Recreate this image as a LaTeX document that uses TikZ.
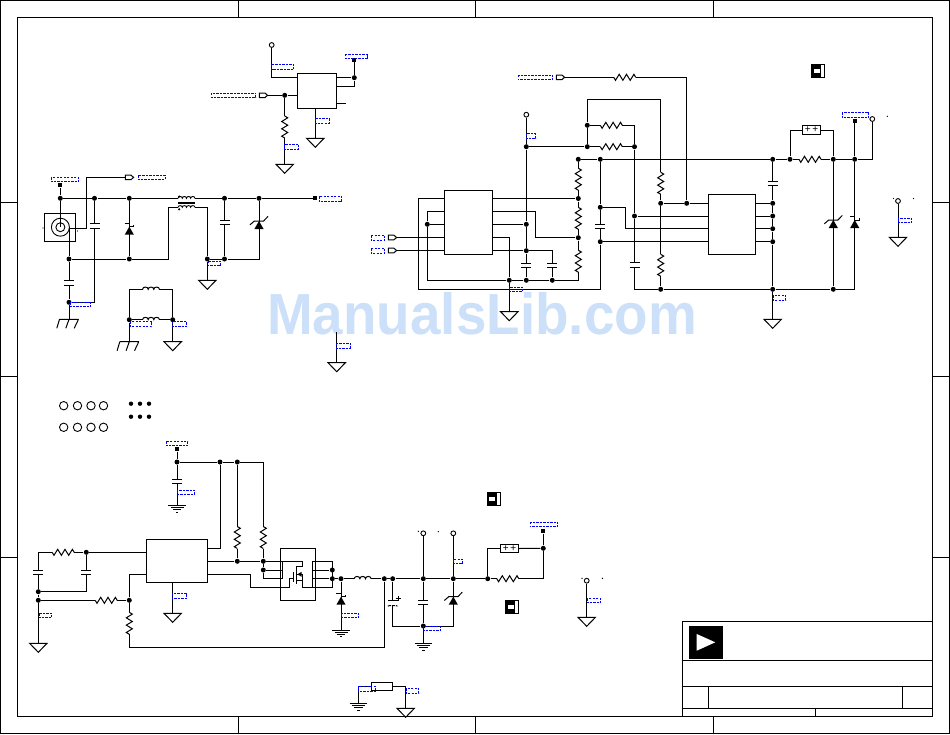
\documentclass[tikz,border=0pt]{standalone}
\usepackage{fontspec}
\setmainfont{Liberation Sans}
\definecolor{wmark}{HTML}{CCE0FA}
\definecolor{netblue}{HTML}{0000FF}
\newcommand\Dot[2]{\node[jn] (#1) at (#2) {};}
\newcommand\Pt[2]{\coordinate (#1) at (#2);}
\newcommand\Sq[2]{\node[termsq] (#1) at (#2) {};}
\newcommand\Tp[2]{\node[termo] (#1) at (#2) {};}
\newcommand\Lab[2]{\draw[netlab] (#1) rectangle (#2);}
\newcommand\IC[4]{\node[icbox,minimum width=#3,minimum height=#4] (#1) at (#2) {};}
\tikzset{
  jn/.style={circle,fill=black,inner sep=0pt,minimum size=5pt},
  termsq/.style={rectangle,fill=black,inner sep=0pt,minimum size=3.8pt},
  termo/.style={circle,draw=black,fill=white,inner sep=0pt,minimum size=4.8pt,line width=0.9pt},
  netlab/.style={draw=netblue,line width=0.85pt,dash pattern=on 2.4pt off 1.1pt},
  icbox/.style={rectangle,draw=black,inner sep=0pt},
  hole/.style={circle,draw=black,inner sep=0pt,minimum size=8.4pt,line width=0.9pt},
  hdot/.style={circle,fill=black,inner sep=0pt,minimum size=4.4pt},
  pics/resh/.style={code={
    \fill[white] (-11,-1.4) rectangle (11,1.4);
    \draw (-11,0) -- (-9.2,3) -- (-5.5,-3) -- (-1.8,3) -- (1.8,-3) -- (5.5,3) -- (9.2,-3) -- (11,0);}},
  pics/resv/.style={code={
    \fill[white] (-1.4,-11) rectangle (1.4,11);
    \draw (0,-11) -- (3,-9.2) -- (-3,-5.5) -- (3,-1.8) -- (-3,1.8) -- (3,5.5) -- (-3,9.2) -- (0,11);}},
  pics/capx/.style={code={
    \fill[white] (-1.4,-2.2) rectangle (1.4,2.2);
    \draw (-5,-2.2) -- (5,-2.2) (-5,2.2) -- (5,2.2);}},
  pics/elcap/.style={code={
    \fill[white] (-1.4,-2.6) rectangle (1.4,2.6);
    \draw (-4.8,-2.6) -- (4.8,-2.6);
    \draw[dash pattern=on 3pt off 1pt] (-4.8,3.2) -- (-3.5,2.6) -- (3.5,2.6) -- (4.8,3.2);
    \draw (5.6,-7.5) -- (5.6,-2.5) (3.2,-5) -- (8,-5);}},
  pics/dios/.style={code={
    \fill (0,0) -- (-4.6,8) -- (4.6,8) -- cycle;
    \draw (-4.6,-3.2) -- (0,-3.2) (0,0) -- (4.6,0) -- (4.6,-1.6);}},
  pics/zen/.style={code={
    \fill (0,0) -- (-4.6,8) -- (4.6,8) -- cycle;
    \draw (-9,3.8) -- (-4.6,0) -- (4.6,0) -- (9,-4.6);}},
  pics/gndtri/.style={code={\draw (-8.7,0) -- (8.7,0) -- (0,9) -- cycle;}},
  pics/gndearth/.style={code={
    \draw (-8.7,0) -- (8.7,0) (-6.5,2.2) -- (6.5,2.2) (-4.3,4.4) -- (4.3,4.4) (-1.2,6.8) -- (1.2,6.8);}},
  pics/chas/.style={code={
    \draw (-9.5,0) -- (9.5,0) (-9.5,0) -- (-12.2,9) (0,0) -- (-3.2,9) (9.5,0) -- (5.2,9);}},
  pics/indh/.style={code={
    \fill[white] (-8.4,-1.2) rectangle (8.4,1.2);
    \draw (-8.4,0) .. controls (-8.4,-3) and (-2.8,-3) .. (-2.8,0)
      .. controls (-2.8,-3) and (2.8,-3) .. (2.8,0)
      .. controls (2.8,-3) and (8.4,-3) .. (8.4,0);}},
  pics/xfmr/.style={code={
    \draw[line width=0.9pt] (-8.5,-4.4) .. controls (-8.5,-6.8) and (-4.2,-6.8) .. (-4.2,-4.4)
      .. controls (-4.2,-6.8) and (0,-6.8) .. (0,-4.4)
      .. controls (0,-6.8) and (4.2,-6.8) .. (4.2,-4.4)
      .. controls (4.2,-6.8) and (8.5,-6.8) .. (8.5,-4.4);
    \draw[line width=0.9pt] (-8.5,4.6) .. controls (-8.5,2.4) and (-4.2,2.4) .. (-4.2,4.6)
      .. controls (-4.2,2.4) and (0,2.4) .. (0,4.6)
      .. controls (0,2.4) and (4.2,2.4) .. (4.2,4.6)
      .. controls (4.2,2.4) and (8.5,2.4) .. (8.5,4.6);
    \draw (-8.5,-0.5) -- (8.5,-0.5) (-8.5,1) -- (8.5,1);
    \fill (-7.3,-6.2) circle[radius=1.2pt] (-7.3,6.6) circle[radius=1.2pt];}},
  pics/tagport/.style={code={
    \draw (0,-2.3) -- (5.6,-2.3) -- (8.3,0) -- (5.6,2.3) -- (0,2.3) -- cycle;}},
  pics/jmp/.style={code={
    \fill[white] (0,0) rectangle (13.4,13.4);
    \fill (1,1) rectangle (10,12.4);
    \fill[white] (2.4,5) rectangle (8.4,8.4);
    \draw (0,0) rectangle (13.4,13.4);}},
}
\begin{document}
\begin{tikzpicture}[x=1pt,y=-1pt,line width=1pt,line cap=butt,line join=miter]
\useasboundingbox (0,0) rectangle (950,734);
% watermark
\node[anchor=base,text=wmark,inner sep=0pt,xscale=0.945,font=\fontsize{58}{58}\selectfont\bfseries] (wm) at (482,334) {ManualsLib.com};
% frame
\draw (0.6,0.6) rectangle (949.4,733.4);
\draw (17,17) rectangle (932.3,716.3);
\foreach \xx in {238,475,713}{\draw (\xx,0.6) -- (\xx,17) (\xx,716.3) -- (\xx,733.4);}
\foreach \yy in {202,376,557}{\draw (0.6,\yy) -- (17,\yy) (932.3,\yy) -- (949.4,\yy);}
% title block
\draw (682.3,621.3) rectangle (932.3,716.3);
\draw (682.3,660.7) -- (932.3,660.7) (682.3,686.3) -- (932.3,686.3) (682.3,708.3) -- (932.3,708.3);
\draw (708.3,686.3) -- (708.3,708.3) (902.3,686.3) -- (902.3,708.3) (815.3,708.3) -- (815.3,716.3);
\fill (689,626) rectangle (723,658.7);
\fill[white] (696.7,634) -- (715.3,642.3) -- (696.7,650.7) -- cycle;
% ---------- section A
\IC{ua}{317,90.85}{39.4pt}{35.1pt}
\Tp{atp}{271.7,45}
\Sq{asq}{354.3,60}
\Dot{aj1}{354.3,77.7}
\Dot{aj2}{284.7,95.3}
\Pt{ap1}{297.3,77.7}\Pt{ap2}{297.3,95.3}
\Pt{ar1}{336.7,77.7}\Pt{ar2}{336.7,86}\Pt{ar3}{336.7,103}\Pt{ar3e}{346,103}
\Pt{ab}{315.3,108.4}\Pt{ag1}{315.3,138.3}\Pt{atip}{267,95.3}\Pt{ag2}{284.7,164.3}
\draw (atp) |- (ap1);
\draw (ar1) -- (aj1) (ar2) -| (aj1) (aj1) -- (asq) (ar3) -- (ar3e);
\draw (ab) -- (ag1);
\draw (atip) -- (aj2) -- (ap2);
\draw (aj2) -- (ag2);
\pic at (284.7,127) {resv};
\pic at (ag1) {gndtri};
\pic at (ag2) {gndtri};
\pic at (259.3,95.3) {tagport};
\Lab{271.7,64.3}{293.7,69.7}\Lab{345.3,54}{367.7,58.7}\Lab{315.5,118.3}{329,123.3}
\Lab{284.7,144.3}{298.7,149.3}\Lab{211.3,93}{255.7,97.7}
% ---------- section B
\IC{bj}{60.3,227.3}{30.7pt}{28pt}
\node[circle,draw=black,inner sep=0pt,minimum size=18pt,line width=0.9pt] (bo) at (60.4,227.2) {};
\node[circle,draw=black,inner sep=0pt,minimum size=9pt,line width=0.9pt] (bi) at (60.4,227.2) {};
\Sq{bsq1}{60.3,185.3}\Sq{bsq2}{315.3,198.3}
\Dot{bj1}{60.3,198.3}\Dot{bj2}{94.5,198.3}\Dot{bj3}{129.3,198.3}\Dot{bj4}{224.5,198.3}\Dot{bj5}{259,198.3}
\Dot{bj6}{69,259}\Dot{bj7}{129.3,259}\Dot{bj8}{207.3,259}\Dot{bj9}{224.5,259}\Dot{bj10}{69,302.3}
\Pt{bx1}{178,198.3}\Pt{bx2}{195,198.3}\Pt{bx3}{178,207.3}\Pt{bx4}{195,207.3}
\Pt{bc}{60.3,227.2}\Pt{bpin}{69,228.4}\Pt{bk1}{168.3,207.3}\Pt{bk2}{86.7,177.3}\Pt{bport}{125.3,177.3}
\Pt{bg1}{207.3,280.3}\Pt{bch1}{69,319.3}
\draw (bsq1) -- (bj1) -- (bc);
\draw (bj1) -- (bj2) -- (bj3) -- (bx1);
\draw (bx2) -- (bj4) -- (bj5) -- (bsq2);
\draw (bj3) -- (bj7);
\draw (bpin) -- (bj6) -- (bj7);
\draw (bj7) -| (bk1) -- (bx3);
\draw (bx4) -| (bj8);
\draw (bj8) -- (bj9) -| (bj5);
\draw (bj8) -- (bg1);
\draw (bj4) -- (bj9);
\draw (bj2) |- (bj10);
\draw (bj6) -- (bj10) -- (bch1);
\draw (bpin) -| (bk2) -- (bport);
\pic at (186.5,202.7) {xfmr};
\pic at (129.3,226.7) {dios};
\pic at (259,221) {zen};
\pic at (224.5,222.3) {capx};
\pic at (94.5,225.8) {capx};
\pic at (69,283) {capx};
\pic at (bg1) {gndtri};
\pic at (bch1) {chas};
\pic at (125.3,177.4) {tagport};
\fill (43,228) circle[radius=0.7pt] (77.5,231) circle[radius=0.7pt];
\Lab{51.3,177.3}{78.7,181.7}\Lab{138.3,175.3}{165,179.7}\Lab{319.3,196.3}{341.7,201.7}
\Lab{70,302.3}{90.7,306.7}\Lab{208,261}{220.7,265.7}
% parallel inductors
\Dot{lj1}{129.3,319.7}\Dot{lj2}{172.7,319.7}
\Pt{lk1}{129.3,289.3}\Pt{lk2}{172.7,289.3}\Pt{lch}{129.3,341.7}\Pt{lg}{172.7,341.7}
\draw (lj1) -- (lk1) -- (lk2) -- (lj2);
\draw (lj1) -- (lj2);
\draw (lj1) -- (lch) (lj2) -- (lg);
\pic at (151,289.3) {indh};
\pic at (151,319.6) {indh};
\pic at (lch) {chas};
\pic at (lg) {gndtri};
\Lab{130,321.7}{151.7,326.7}\Lab{172.7,321.7}{186.7,326.7}
% lone ground
\Pt{mt}{336.7,332}\Pt{mg}{336.7,362.7}
\draw (mt) -- (mg);
\pic at (mg) {gndtri};
\Lab{336.7,343}{350,348}
% ---------- section C
\IC{ub}{468.5,222.4}{48.4pt}{64pt}
\IC{uc}{732,224.3}{47.4pt}{60pt}
\Tp{ctp1}{526.3,114.7}\Tp{ctp2}{872.3,119}\Tp{ctp3}{898,201}
\Sq{csq}{854.7,121}
\Dot{cj1}{526.3,146.7}\Dot{cj2}{587.3,146.7}\Dot{cj3}{634.5,146.7}\Dot{cj4}{587.3,125.3}
\Dot{cj5}{578.3,159.3}\Dot{cj6}{600.3,159.3}\Dot{cj7}{772.7,159.3}\Dot{cj8}{790,159.3}\Dot{cj9}{833.3,159.3}\Dot{cj10}{854.7,159.3}
\Dot{cj11}{578.3,198.5}\Dot{cj12}{578.3,237.7}\Dot{cj13}{427.3,224.3}\Dot{cj14}{526.3,224.3}\Dot{cj15}{526.3,250.7}
\Dot{cj16}{509.3,280.3}\Dot{cj17}{526.3,280.3}\Dot{cj18}{552.3,280.3}
\Dot{cj19}{600.3,207.3}\Dot{cj20}{600.3,241.7}\Dot{cj21}{634.5,216}\Dot{cj22}{660.7,203.3}\Dot{cj23}{686.7,203.3}
\Dot{cj24}{660.7,289.3}\Dot{cj25}{772.7,289.3}\Dot{cj26}{833.3,289.3}
\Dot{cj27}{772.7,203.3}\Dot{cj28}{772.7,216}\Dot{cj29}{772.7,228.7}\Dot{cj30}{772.7,241.7}
\node[icbox,minimum width=18.4pt,minimum height=9.4pt,font=\fontsize{10}{10}\selectfont] (cf) at (811.5,130) {+\,+};
\Pt{ctip}{565,77.3}\Pt{ck1}{587.3,99.3}\Pt{ck2}{600.3,289.3}\Pt{ck3}{418.3,289.3}\Pt{ck4}{418.3,198.5}
\Pt{ck5}{578.3,280.3}\Pt{ck6}{427.3,280.3}\Pt{ck7}{427.3,211.7}\Pt{ck8}{625.3,228.7}\Pt{ck9}{535.3,237.7}
\Pt{ubw1}{444.3,198.5}\Pt{ubw2}{444.3,211.7}\Pt{ubw3}{444.3,224.3}\Pt{ubw4}{444.3,237.5}\Pt{ubw5}{444.3,250.5}
\Pt{ube1}{492.7,198.5}\Pt{ube2}{492.7,211.7}\Pt{ube3}{492.7,224.3}\Pt{ube4}{492.7,237.7}\Pt{ube5}{492.7,250.7}
\Pt{ucw1}{708.3,203.3}\Pt{ucw2}{708.3,216}\Pt{ucw3}{708.3,228.7}\Pt{ucw4}{708.3,241.7}
\Pt{uce1}{755.7,203.3}\Pt{uce2}{755.7,216}\Pt{uce3}{755.7,228.7}\Pt{uce4}{755.7,241.7}
\Pt{ctipa}{396.7,237.5}\Pt{ctipb}{396.7,250.5}
\Pt{cg1}{509.3,311.7}\Pt{cg2}{772.7,319.3}\Pt{cg3}{898,237.3}
\draw (ctip) -| (cj23);
\draw (ctp1) -- (cj1) -- (cj14) -- (cj15) -- (cj17);
\draw (cj1) -- (cj2) -- (cj3);
\draw (cj4) -- (cj2);
\draw (cj4) -- (ck1) -| (cj22);
\draw (cj4) -| (cj3);
\draw (cj3) -- (cj21) |- (cj24);
\draw (cj22) -- (cj24);
\draw (cj22) -- (cj23) -- (ucw1);
\draw (cj21) -- (ucw2);
\draw (cj19) -| (ck8) -- (ucw3);
\draw (cj20) -- (ucw4);
\draw (cj6) -- (cj19) -- (cj20) -- (ck2) -- (ck3) -- (ck4) -- (ubw1);
\draw (cj5) -- (cj6) -- (cj7) -- (cj8) -- (cj9) -- (cj10) -| (ctp2);
\draw (cj5) -- (cj11) -- (cj12) -- (ck5) -- (cj18) -- (cj17) -- (cj16) -- (ck6) -- (cj13) -- (ck7) -- (ubw2);
\draw (cj13) -- (ubw3);
\draw (ubw4) -- (ctipa) (ubw5) -- (ctipb);
\draw (ube1) -- (cj11);
\draw (ube2) -| (ck9) -- (cj12);
\draw (ube3) -- (cj14);
\draw (ube4) -| (cj16);
\draw (ube5) -- (cj15);
\draw (cj15) -| (cj18);
\draw (cj16) -- (cg1);
\draw (uce1) -- (cj27) (uce2) -- (cj28) (uce3) -- (cj29) (uce4) -- (cj30);
\draw (cj7) -- (cj27) -- (cj28) -- (cj29) -- (cj30) -- (cj25) -- (cg2);
\draw (cj24) -- (cj25) -- (cj26) -| (cj10);
\draw (cj10) -- (csq);
\draw (cj9) -- (cj26);
\draw (cj8) |- (cf.west);
\draw (cf.east) -| (cj9);
\draw (ctp3) -- (cg3);
\pic at (624.7,77.3) {resh};
\pic at (611.3,125.3) {resh};
\pic at (611.3,146.7) {resh};
\pic at (810,159.3) {resh};
\pic at (578.3,179.2) {resv};
\pic at (578.3,218.3) {resv};
\pic at (578.3,261.2) {resv};
\pic at (660.7,183.3) {resv};
\pic at (660.7,265.3) {resv};
\pic at (526.3,265.7) {capx};
\pic at (552.3,265.2) {capx};
\pic at (600.3,226.3) {capx};
\pic at (634.5,265) {capx};
\pic at (772.7,183.7) {capx};
\pic at (833.3,220) {zen};
\pic at (854.7,220) {dios};
\pic at (cg1) {gndtri};
\pic at (cg2) {gndtri};
\pic at (cg3) {gndtri};
\pic at (556.3,77.3) {tagport};
\pic at (388.3,237.5) {tagport};
\pic at (388.3,250.5) {tagport};
\pic at (811.3,64.3) {jmp};
\fill (887.3,116.3) circle[radius=0.7pt] (893.5,198.5) circle[radius=0.7pt] (913.5,198.5) circle[radius=0.7pt];
\Lab{518,75}{552.7,79.7}\Lab{526.3,133.7}{535.7,138.3}\Lab{509.3,287.3}{522.7,291.3}
\Lab{371,235.3}{384.7,240.3}\Lab{371,248.3}{384.7,253.3}
\Lab{773,295.3}{785.7,300.3}\Lab{842,112.3}{868.7,117.7}\Lab{898,218.3}{911.7,222.7}
% ---------- mounting holes
\foreach \hx/\hn in {63.7/a,77.5/b,91/c,103.5/d}{
  \node[hole] (ht\hn) at (\hx,405.7) {};
  \node[hole] (hb\hn) at (\hx,427.3) {};}
\foreach \hx/\hn in {131/a,140/b,149/c}{
  \node[hdot] (dt\hn) at (\hx,403.7) {};
  \node[hdot] (db\hn) at (\hx,416.7) {};}
% ---------- section D
\IC{ud}{176.8,560.8}{61pt}{43pt}
\IC{uq}{297.8,574.3}{35pt}{52pt}
\Sq{dsq}{177,449.3}
\Dot{dj1}{177,462}\Dot{dj2}{220,462}\Dot{dj3}{237.3,462}\Dot{dj4}{237.3,561.3}\Dot{dj5}{263.3,561.3}\Dot{dj6}{263.3,570}
\Dot{dj7}{86.3,552.3}\Dot{dj8}{38.3,591.7}\Dot{dj9}{38.3,600.3}\Dot{dj10}{129.3,600.3}
\Dot{dj11}{332.3,570}\Dot{dj12}{332.3,578.7}\Dot{dj13}{341,578.7}\Dot{dj14}{384.3,578.7}
\Pt{de}{177,505.3}\Pt{dp1}{207.3,548.3}\Pt{dp2}{207.3,561.3}\Pt{dp3}{207.3,574.3}
\Pt{dw1}{146.3,552.3}\Pt{dw2}{146.3,574.3}\Pt{dk0}{38.3,552.3}\Pt{dg}{38.3,643.3}\Pt{dk2}{129.3,647.3}
\Pt{dq1}{282.3,578.3}\Pt{dq2}{282.3,561.3}\Pt{dq3}{282.3,570}
\Pt{dg1}{250.3,587.3}\Pt{dg2}{289.3,587.3}\Pt{dg3}{293.7,578.3}
\Pt{dd1}{302.7,561.3}\Pt{dd2}{302.7,566}\Pt{dd3}{296,566}
\Pt{ds1}{296,580}\Pt{ds2}{302.7,580}\Pt{ds3}{302.7,587.7}\Pt{ds4}{332.3,587.7}\Pt{ds5}{312.3,587.7}\Pt{ds6}{312.3,561.3}\Pt{ds7}{332.3,561.3}
\Pt{ds8}{312.3,570}\Pt{ds9}{312.3,578.7}
\Pt{dib}{172.7,582.3}\Pt{dgb}{172.7,613.3}
\draw (dsq) -- (dj1) -- (de);
\draw (dj1) -- (dj2) -- (dj3) -| (dj5);
\draw (dp1) -| (dj2);
\draw (dj3) -- (dj4);
\draw (dp2) -- (dj4) -- (dj5) -- (dd1) -- (dd2) -- (dd3);
\draw (dj5) -- (dj6) |- (dq1) -- (dq2);
\draw (dj6) -- (dq3);
\draw (dp3) -| (dg1) -- (dg2) |- (dg3);
\draw (293.7,571.7) -- (293.7,581.7);
\draw (296,566) -- (296,584);
\draw (ds1) -- (ds2) -- (ds3) -- (ds4) -- (ds7) -- (ds6) -- (ds5);
\draw (296,574.3) -- (302.7,574.3) -- (ds2);
\fill (297.3,574.3) -- (301.7,571.8) -- (301.7,576.8) -- cycle;
\draw (ds8) -- (dj11) (ds9) -- (dj12);
\draw (dw1) -- (dj7) -- (dk0) -- (dj8) -- (dj9) -- (dg);
\draw (dj7) |- (dj8);
\draw (dj9) -- (dj10) |- (dw2);
\draw (dj10) -- (dk2) -| (dj14);
\draw (dib) -- (dgb);
\pic at (177,481.3) {capx};
\pic at (237.3,537.5) {resv};
\pic at (263.3,537.5) {resv};
\pic at (38.3,572.3) {capx};
\pic at (86.3,572.3) {capx};
\pic at (63.2,552.3) {resh};
\pic at (106.2,600.3) {resh};
\pic at (129.3,623.3) {resv};
\pic at (de) {gndearth};
\pic at (dg) {gndtri};
\pic at (dgb) {gndtri};
\Lab{166.3,441.3}{187.7,445.7}\Lab{177.3,490.3}{194.7,494.3}\Lab{39,613.3}{51.7,617.7}\Lab{172.3,593.3}{186.7,598.3}
% ---------- section E
\Sq{esq}{543.3,531.3}
\Tp{etp1}{423.3,533.3}\Tp{etp2}{453.3,533.3}\Tp{etp3}{586.7,580.7}
\Dot{ej1}{392.7,578.7}\Dot{ej2}{423.3,578.7}\Dot{ej3}{453.3,578.7}\Dot{ej4}{487.7,578.7}\Dot{ej5}{543.3,548.3}\Dot{ej6}{423.3,626}
\node[icbox,minimum width=18.4pt,minimum height=8.4pt,font=\fontsize{10}{10}\selectfont] (ef) at (509.5,548.5) {+\,+};
\node[icbox,minimum width=21.4pt,minimum height=8pt] (er) at (382,686.3) {};
\Pt{ek}{543.3,578.7}\Pt{eg0}{341,630}\Pt{ek1}{392.7,626}\Pt{eg}{423.3,643.3}
\Pt{eg2}{358.3,703.3}\Pt{eg3}{405.7,708.3}\Pt{eg4}{586.7,617.3}
\draw (dj12) -- (dj13) -- (dj14) -- (ej1) -- (ej2) -- (ej3) -- (ej4) -- (ek) -- (ej5) -- (esq);
\draw (ej4) |- (ef.west);
\draw (ef.east) -- (ej5);
\draw (dj13) -- (eg0);
\draw (ej1) -- (ek1) -- (ej6) -| (ej3);
\draw (ej2) -- (ej6) -- (eg);
\draw (etp1) -- (ej2) (etp2) -- (ej3);
\draw (er.west) -| (eg2);
\draw (er.east) -| (eg3);
\draw (etp3) -- (eg4);
\pic at (362.7,578.7) {indh};
\pic at (507.8,578.7) {resh};
\pic at (341,596.7) {dios};
\pic at (453.3,596.7) {zen};
\pic at (423.3,602.5) {capx};
\pic at (392.7,603) {elcap};
\pic at (eg0) {gndearth};
\pic at (eg) {gndearth};
\pic at (eg2) {gndearth};
\pic at (eg3) {gndtri};
\pic at (eg4) {gndtri};
\pic at (487,492.3) {jmp};
\pic at (505.3,600.3) {jmp};
\fill (418.3,531.3) circle[radius=0.7pt] (438.3,531.7) circle[radius=0.7pt] (582,578.3) circle[radius=0.7pt] (602.5,578.3) circle[radius=0.7pt];
\Lab{341.7,613.3}{358.7,617.7}\Lab{423.3,626.3}{440.3,630.7}\Lab{453.3,559.3}{462.7,563.7}
\Lab{530,522}{557.7,526.7}\Lab{358.3,686.3}{375.7,691.7}\Lab{406,688.3}{418.7,693.3}\Lab{587.3,598.3}{600.7,602.7}
\end{tikzpicture}
\end{document}
